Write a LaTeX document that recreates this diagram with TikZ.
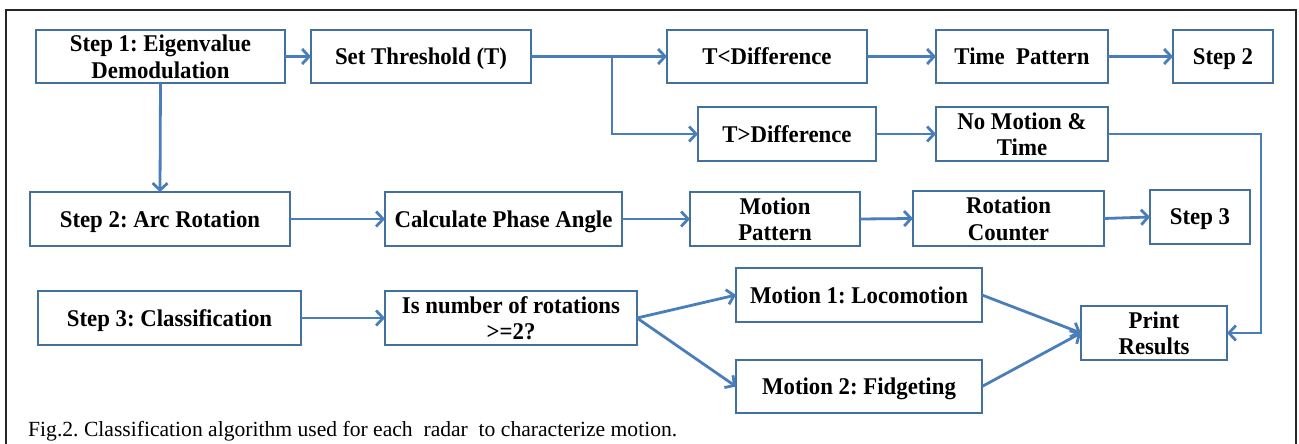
\documentclass[tikz,border=0pt]{standalone}
\usepackage{fontspec}
\setmainfont{Liberation Serif}
\newfontfamily\boxfont[FakeStretch=0.95]{Liberation Serif}
\usetikzlibrary{arrows.meta}
\definecolor{boxblue}{RGB}{65,113,156}
\definecolor{lineblue}{RGB}{74,126,187}
\tikzset{
  box/.style={draw=boxblue, line width=2.6pt, rectangle, inner sep=0pt, outer sep=0pt,
    align=center, text=black, text depth=0pt,
    font=\boxfont\bfseries\fontsize{24}{26.5}\selectfont\frenchspacing},
  conn/.style={draw=lineblue, line width=2.8pt,
    -{Straight Barb[length=7pt,width=15pt,line width=2.8pt]}},
}
\newcommand{\bx}[7]{\node[box, minimum width=#4-#2, minimum height=#5-#3] (#1) at ({(#2+#4)/2},{(#3+#5)/2}) {#6#7};}
\begin{document}
\begin{tikzpicture}[x=1pt,y=-1pt]
\useasboundingbox (0,0) rectangle (1299,444);
\draw[line width=1.4pt, black!85] (6,444) -- (6,10) -- (1296,10) -- (1296,444);

\bx{s1}{36}{30}{285}{83}{Step 1: Eigenvalue\\Demodulation}{}
\bx{thr}{311}{30}{531}{83}{Set Threshold (T)}{}
\bx{tl}{667}{30}{867}{83}{T<Difference}{}
\bx{tp}{936}{30}{1108}{83}{Time\ \ Pattern}{}
\bx{st2}{1173}{30}{1273}{83}{Step 2}{}
\bx{tg}{698}{107}{876}{161}{T>Difference}{}
\bx{nm}{936}{107}{1108}{161}{No Motion \&\\Time}{}
\bx{s2}{30}{192}{290}{246}{Step 2: Arc Rotation}{}
\bx{cpa}{385}{192}{622}{246}{Calculate Phase Angle}{}
\bx{mp}{690}{192}{860}{246}{Motion\\Pattern}{}
\bx{rc}{913}{191}{1104}{246}{Rotation\\Counter}{}
\bx{st3}{1150}{190}{1250}{244}{Step 3}{}
\bx{s3}{38}{291}{301}{345}{Step 3: Classification}{}
\bx{isn}{385}{291}{637}{345}{Is number of rotations\\>=2?}{}
\bx{m1}{736}{268}{982}{322}{Motion 1: Locomotion}{}
\bx{m2}{736}{360}{982}{413}{Motion 2: Fidgeting}{}
\bx{pr}{1081}{306}{1227}{360}{Print\\Results}{}

\coordinate (j1) at (612,56.5);
\coordinate (c1) at (1261,134);

\draw[conn] (s1.east) -- (thr.west);
\draw[conn] (thr.east) -- (tl.west);
\draw[conn] (j1) |- (tg.west);
\draw[conn] (tl.east) -- (tp.west);
\draw[conn] (tp.east) -- (st2.west);
\draw[conn] (tg.east) -- (nm.west);
\draw[conn] (nm.east) -- (c1) |- (pr.east);
\draw[conn] (s1.south) -- (s2.north);
\draw[conn] (s2.east) -- (cpa.west);
\draw[conn] (cpa.east) -- (mp.west);
\draw[conn] (mp.east) -- (rc.west);
\draw[conn] (rc.east) -- (st3.west);
\draw[conn] (s3.east) -- (isn.west);
\draw[conn] (isn.east) -- (m1.west);
\draw[conn] (isn.east) -- (m2.west);
\draw[conn] (m1.east) -- (pr.west);
\draw[conn] (m2.east) -- (pr.west);

\node[anchor=base west, inner sep=0pt, font=\fontsize{21.6}{24}\selectfont\frenchspacing] (cap) at (28,436)
  {Fig.2. Classification algorithm used for each\ \ radar\ \ to characterize motion.};
\end{tikzpicture}
\end{document}
